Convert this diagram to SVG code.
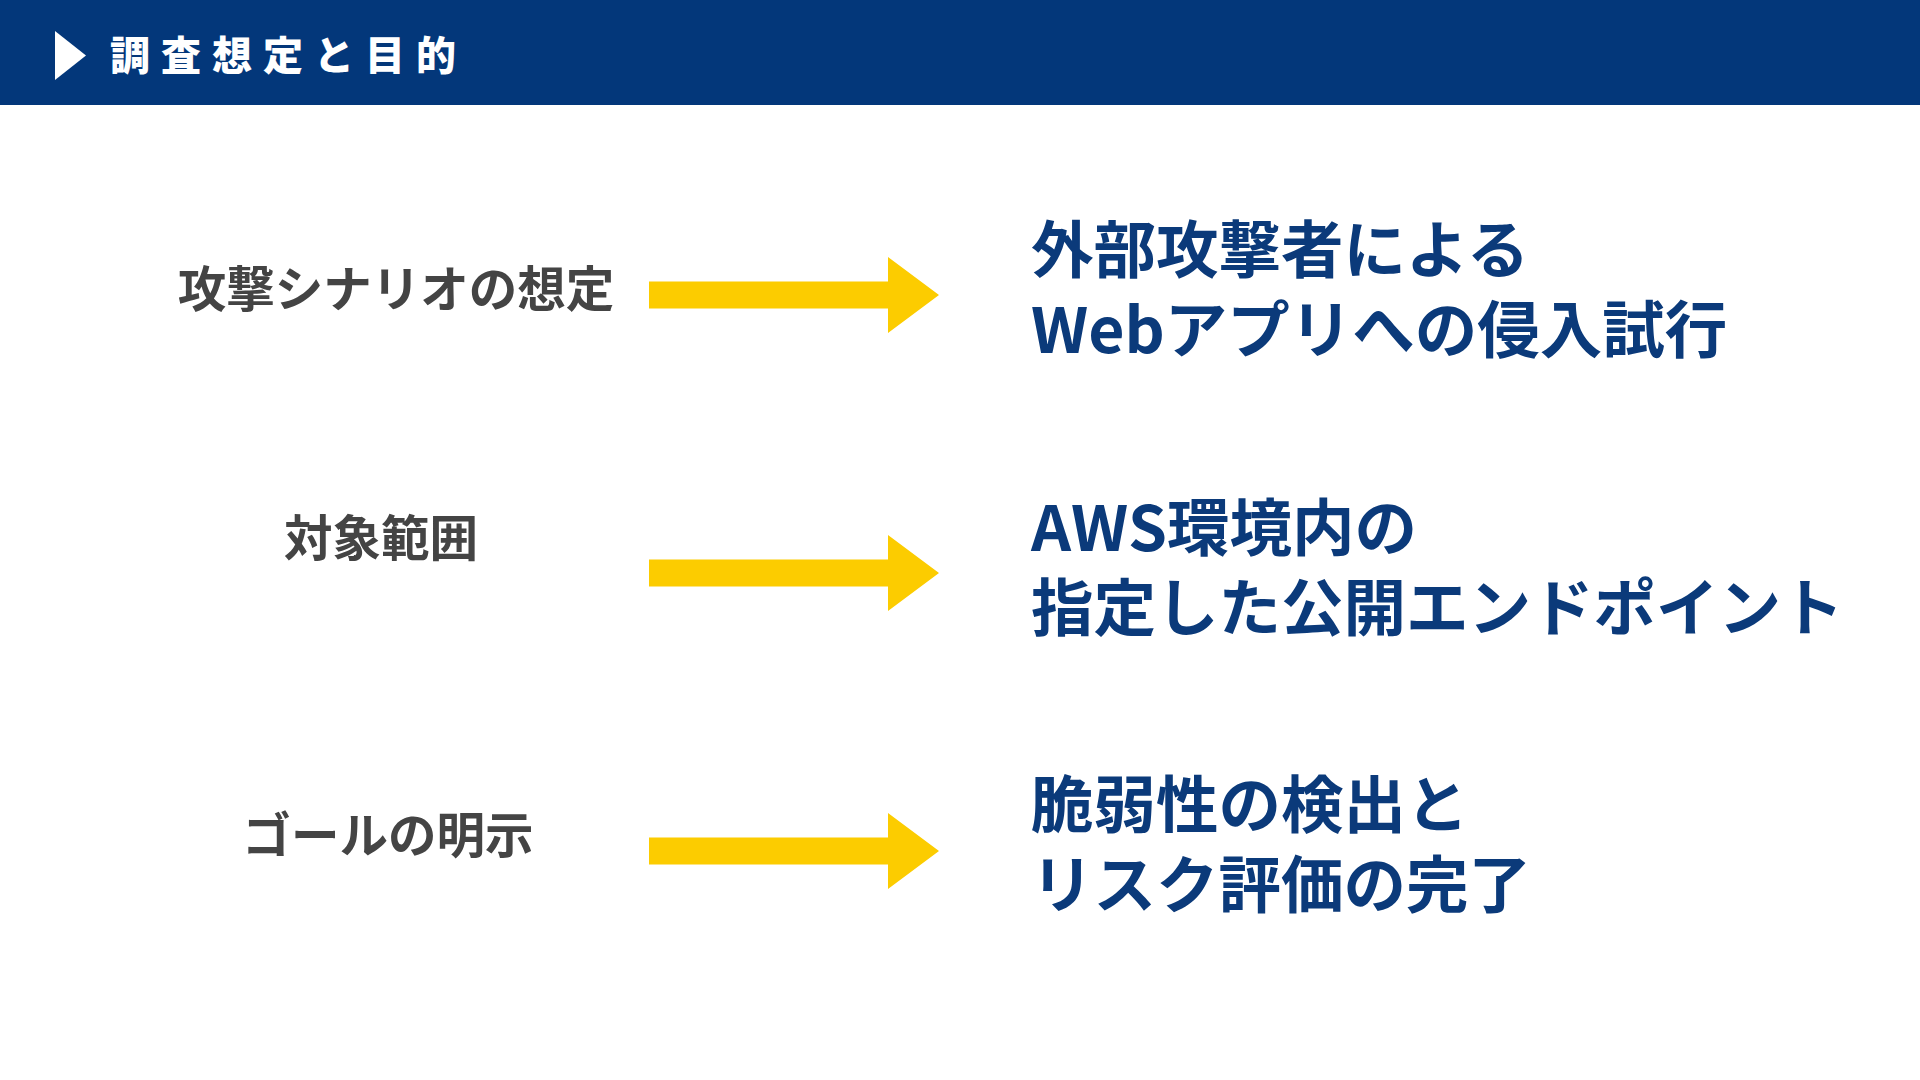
<svg xmlns="http://www.w3.org/2000/svg" width="1920" height="1080" viewBox="0 0 1920 1080">
<defs>
<style>
.title{font-family:"Noto Sans CJK JP","Noto Sans",sans-serif;font-weight:900;font-size:40px;fill:#ffffff;letter-spacing:11px;dominant-baseline:central}
.lbl{font-family:"Noto Sans CJK JP","Noto Sans",sans-serif;font-weight:700;font-size:48.5px;fill:#444444;text-anchor:middle;dominant-baseline:central}
.val{font-family:"Noto Sans CJK JP","Noto Sans",sans-serif;font-weight:700;font-size:62.5px;fill:#0b3a7a;dominant-baseline:central}
.arrow{fill:#fccc00}
</style>
<path id="arr" class="arrow" d="M0,-13.5 H239 V-38 L290,0 L239,38 V13.5 H0 Z"/>
</defs>
<rect width="1920" height="1080" fill="#ffffff"/>
<g id="header">
<rect x="0" y="0" width="1920" height="105" fill="#03377a"/>
<polygon points="55,31 86,55.5 55,80" fill="#ffffff"/>
<text class="title" x="110" y="53">調査想定と目的</text>
</g>
<g id="row1-label"><text class="lbl" x="396" y="286">攻撃シナリオの想定</text></g>
<g id="row1-value"><text class="val" x="1031" y="245">外部攻撃者による</text><text class="val" x="1031" y="325">Webアプリへの侵入試行</text></g>
<g id="row2-label"><text class="lbl" x="381" y="535">対象範囲</text></g>
<g id="row2-value"><text class="val" x="1031" y="523">AWS環境内の</text><text class="val" x="1031" y="603">指定した公開エンドポイント</text></g>
<g id="row3-label"><text class="lbl" x="388" y="832">ゴールの明示</text></g>
<g id="row3-value"><text class="val" x="1031" y="800">脆弱性の検出と</text><text class="val" x="1031" y="880">リスク評価の完了</text></g>
<g id="connectors">
<use href="#arr" x="649" y="295"/>
<use href="#arr" x="649" y="573"/>
<use href="#arr" x="649" y="851"/>
</g>
</svg>
